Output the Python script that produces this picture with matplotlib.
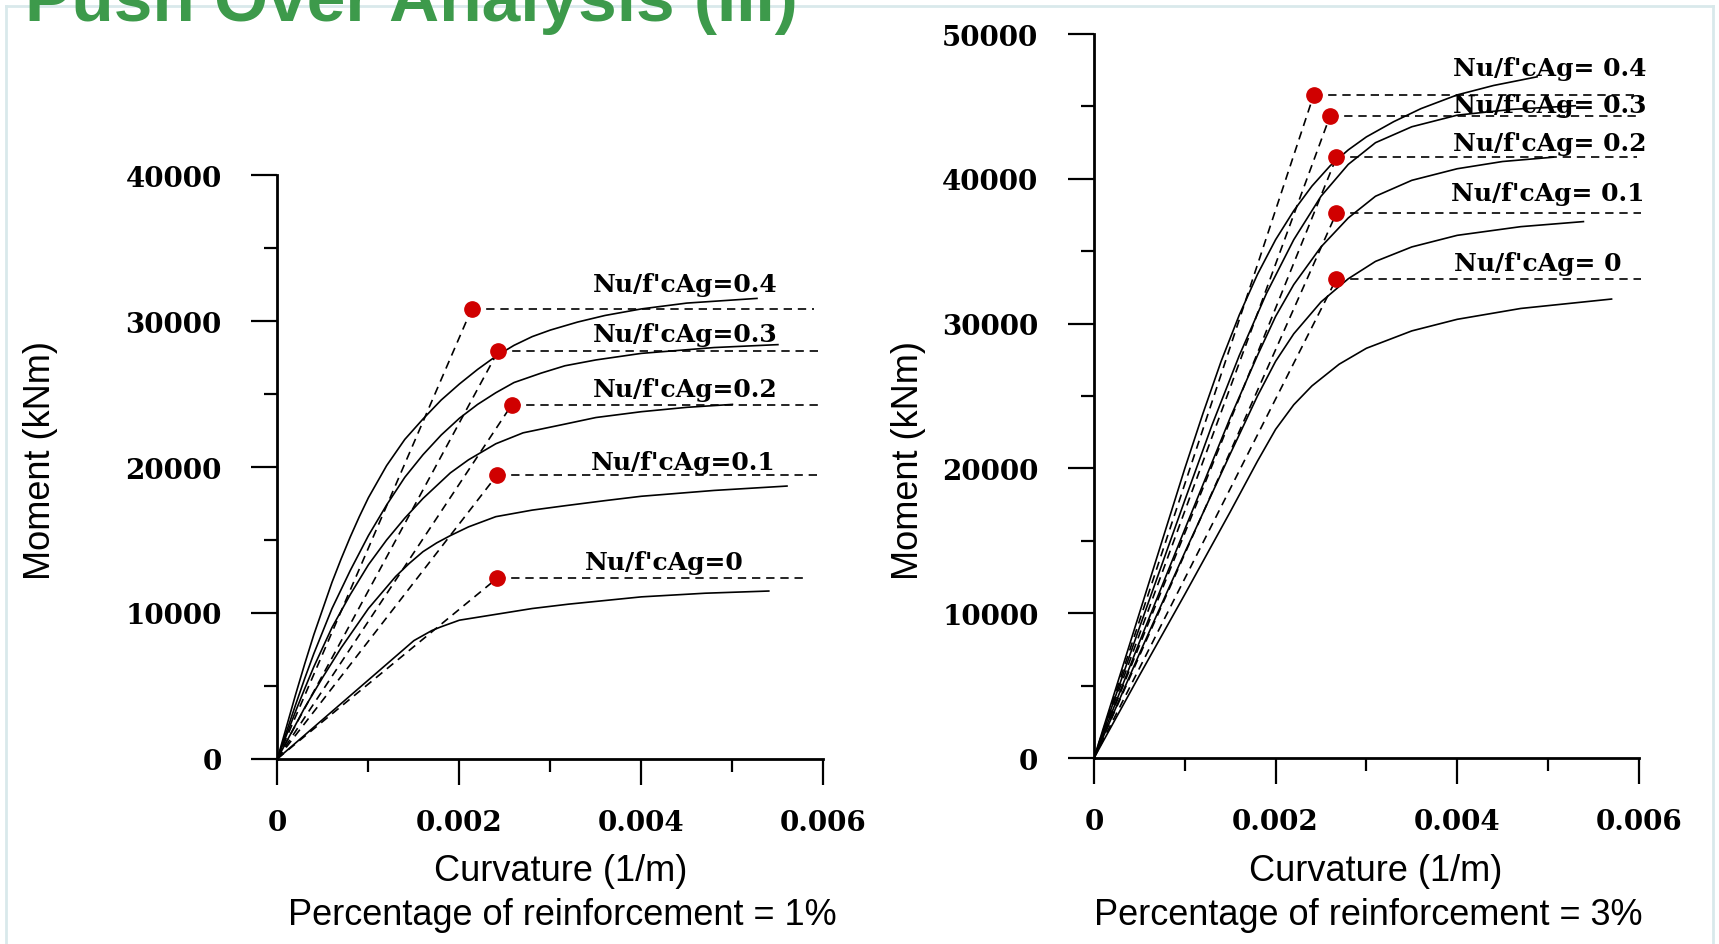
import matplotlib

matplotlib.use("Agg")
import matplotlib.pyplot as plt
from matplotlib.lines import Line2D
from matplotlib.ticker import MultipleLocator

W, H = 1719, 945

ratios = ["0.4", "0.3", "0.2", "0.1", "0"]

# --- 1 % reinforcement: moment-curvature curves (1/m, kNm)
phi1_04 = [0, 0.0001, 0.0002, 0.0003, 0.0004, 0.0005, 0.0006, 0.0007, 0.0008, 0.0009, 0.001, 0.0012,
           0.0014, 0.0016, 0.0018, 0.002, 0.0022, 0.0024, 0.0026, 0.0028, 0.003, 0.0033, 0.0036, 0.004,
           0.0045, 0.00527]
mom1_04 = [0, 2200, 4400, 6500, 8500, 10300, 12100, 13700, 15200, 16600, 17900, 20100,
           21900, 23300, 24600, 25700, 26700, 27600, 28350, 28950, 29400, 29950, 30400, 30850,
           31250, 31570]
phi1_03 = [0, 0.0002, 0.0003, 0.0004, 0.0006, 0.0008, 0.001, 0.0012, 0.0014, 0.0016, 0.0018, 0.002,
           0.0022, 0.0024, 0.0026, 0.0029, 0.00316, 0.0035, 0.004, 0.0048, 0.0055]
mom1_03 = [0, 3700, 5500, 7200, 10300, 12900, 15300, 17400, 19300, 20850, 22200, 23350,
           24300, 25100, 25800, 26450, 26950, 27350, 27800, 28200, 28400]
phi1_02 = [0, 0.0002, 0.0003, 0.0004, 0.0006, 0.0008, 0.001, 0.0012, 0.0014, 0.0016, 0.0019, 0.0021,
           0.0024, 0.0027, 0.00316, 0.0035, 0.004, 0.0045, 0.005]
mom1_02 = [0, 3250, 4800, 6300, 9000, 11250, 13300, 15000, 16500, 17850, 19600, 20500,
           21600, 22350, 22950, 23400, 23800, 24100, 24300]
phi1_01 = [0, 0.0003, 0.0005, 0.0007, 0.001, 0.0013, 0.00145, 0.0016, 0.00175, 0.0019, 0.0021, 0.0024,
           0.0028, 0.00316, 0.0036, 0.004, 0.0048, 0.0056]
mom1_01 = [0, 3500, 5600, 7600, 10300, 12500, 13400, 14200, 14800, 15300, 15900, 16600,
           17050, 17350, 17700, 18000, 18400, 18700]
phi1_00 = [0, 0.0005, 0.001, 0.0015, 0.0017, 0.0018, 0.002, 0.0022, 0.0025, 0.0028, 0.0032, 0.004,
           0.0047, 0.0054]
mom1_00 = [0, 2700, 5400, 8100, 8800, 9050, 9500, 9700, 10000, 10300, 10600, 11100,
           11350, 11500]

# yield points (red dots), plateau ends and label anchors, 1 %
yield1_phi = [0.002135, 0.002428, 0.002574, 0.002417, 0.002417]
yield1_mom = [30850, 27980, 24260, 19480, 12390]
dash1_end = [0.0059, 0.00596, 0.00596, 0.00594, 0.00583]
label1_phi = [0.00448, 0.00448, 0.00448, 0.00446, 0.00425]
label1_mom = [32100, 28670, 24900, 19870, 13010]

# --- 3 % reinforcement
phi3_04 = [0, 0.0005, 0.001, 0.0012, 0.0014, 0.0016, 0.0018, 0.002, 0.0022, 0.0024, 0.0026, 0.0028,
           0.003, 0.0033, 0.0036, 0.004, 0.0044, 0.00488]
mom3_04 = [0, 10000, 20000, 23800, 27400, 30600, 33400, 35800, 37800, 39500, 40900, 42000,
           42900, 43950, 44850, 45800, 46450, 47050]
phi3_03 = [0, 0.0005, 0.001, 0.0013, 0.0016, 0.0019, 0.0022, 0.0025, 0.0028, 0.0031, 0.0035, 0.004,
           0.0046, 0.0053]
mom3_03 = [0, 9000, 17800, 23000, 27800, 32100, 35800, 38800, 41000, 42500, 43600, 44400,
           44800, 45050]
phi3_02 = [0, 0.0005, 0.001, 0.0015, 0.0018, 0.002, 0.0022, 0.0025, 0.0028, 0.0031, 0.0035, 0.004,
           0.0045, 0.00506]
mom3_02 = [0, 8000, 15800, 23500, 27800, 30500, 32700, 35300, 37300, 38800, 39900, 40700,
           41200, 41500]
phi3_01 = [0, 0.0005, 0.001, 0.0015, 0.0018, 0.002, 0.0022, 0.0025, 0.0028, 0.0031, 0.0035, 0.004,
           0.0047, 0.00539]
mom3_01 = [0, 7200, 14200, 21000, 25000, 27400, 29300, 31500, 33100, 34300, 35300, 36100,
           36700, 37050]
phi3_00 = [0, 0.0005, 0.001, 0.0015, 0.0018, 0.002, 0.0022, 0.0024, 0.0027, 0.003, 0.0035, 0.004,
           0.0047, 0.0057]
mom3_00 = [0, 5700, 11300, 17000, 20500, 22700, 24400, 25700, 27200, 28300, 29500, 30300,
           31050, 31700]

yield3_phi = [0.00242, 0.0026, 0.00267, 0.00267, 0.00267]
yield3_mom = [45800, 44350, 41480, 37650, 33100]
dash3_end = [0.00598, 0.00602, 0.00598, 0.00602, 0.00602]
label3_phi = [0.00502, 0.00502, 0.00502, 0.005, 0.00489]
label3_mom = [47170, 44640, 42000, 38550, 33720]

panels = [
    {
        "rect": [277.4 / W, 1 - 759.7 / H, 546 / W, 583.2 / H],
        "ymax": 40000,
        "curves": [(phi1_04, mom1_04), (phi1_03, mom1_03), (phi1_02, mom1_02),
                   (phi1_01, mom1_01), (phi1_00, mom1_00)],
        "yp": yield1_phi, "ym": yield1_mom, "dend": dash1_end,
        "lp": label1_phi, "lm": label1_mom, "sep": "=",
    },
    {
        "rect": [1094 / W, 1 - 759 / H, 544.8 / W, 723.9 / H],
        "ymax": 50000,
        "curves": [(phi3_04, mom3_04), (phi3_03, mom3_03), (phi3_02, mom3_02),
                   (phi3_01, mom3_01), (phi3_00, mom3_00)],
        "yp": yield3_phi, "ym": yield3_mom, "dend": dash3_end,
        "lp": label3_phi, "lm": label3_mom, "sep": "= ",
    },
]

tick_font = {"family": "DejaVu Serif", "weight": "bold", "size": 20}

fig = plt.figure(figsize=(W / 100, H / 100), dpi=100)

for p in panels:
    ax = fig.add_axes(p["rect"])
    for phi, mom in p["curves"]:
        ax.plot(phi, mom, color="black", lw=1.2, solid_joinstyle="round")
    for i, r in enumerate(ratios):
        # secant from origin to yield point, then horizontal plateau
        ax.plot([0, p["yp"][i]], [0, p["ym"][i]], color="black", lw=1.2,
                linestyle=(0, (5, 3.5)))
        ax.plot([p["yp"][i], p["dend"][i]], [p["ym"][i], p["ym"][i]],
                color="black", lw=1.2, linestyle=(0, (5, 3.5)), clip_on=False)
        ax.plot(p["yp"][i], p["ym"][i], "o", color="#d00000", ms=11,
                clip_on=False, zorder=5)
        ax.text(p["lp"][i], p["lm"][i], "Nu/f'cAg" + p["sep"] + r,
                ha="center", va="baseline", family="DejaVu Serif",
                weight="bold", size=18, zorder=6)

    ax.set_xlim(0, 0.006)
    ax.set_ylim(0, p["ymax"])
    ax.set_xticks([0, 0.002, 0.004, 0.006])
    ax.set_xticklabels(["0", "0.002", "0.004", "0.006"], fontdict=tick_font)
    ax.xaxis.set_minor_locator(MultipleLocator(0.001))
    yt = list(range(0, p["ymax"] + 1, 10000))
    ax.set_yticks(yt)
    ax.set_yticklabels([str(v) for v in yt], fontdict=tick_font)
    ax.yaxis.set_minor_locator(MultipleLocator(5000))
    ax.tick_params(which="major", length=19, width=1.6, direction="out")
    ax.tick_params(which="minor", length=9.5, width=1.6, direction="out")
    ax.tick_params(axis="y", which="major", pad=21)
    ax.tick_params(axis="x", which="major", pad=17)
    for s in ["top", "right"]:
        ax.spines[s].set_visible(False)
    for s in ["left", "bottom"]:
        ax.spines[s].set_linewidth(2)

label_font = {"family": "Liberation Sans", "size": 26}
fig.text(40.6 / W, 1 - 460 / H, "Moment (kNm)", rotation=90, ha="center", va="center", **label_font)
fig.text(909 / W, 1 - 460 / H, "Moment (kNm)", rotation=90, ha="center", va="center", **label_font)
fig.text(561 / W, 1 - 871.6 / H, "Curvature (1/m)", ha="center", va="center", **label_font)
fig.text(1376 / W, 1 - 871.6 / H, "Curvature (1/m)", ha="center", va="center", **label_font)
fig.text(562 / W, 1 - 915.4 / H, "Percentage of reinforcement = 1%", ha="center", va="center", **label_font)
fig.text(1368 / W, 1 - 915.4 / H, "Percentage of reinforcement = 3%", ha="center", va="center", **label_font)

# slide frame
frame = "#d9e9eb"
fig.add_artist(Line2D([6 / W, 6 / W], [0, 1 - 7 / H], transform=fig.transFigure, color=frame, lw=2))
fig.add_artist(Line2D([6 / W, 1713 / W], [1 - 7 / H, 1 - 7 / H], transform=fig.transFigure, color=frame, lw=2))
fig.add_artist(Line2D([1713 / W, 1713 / W], [0, 1 - 7 / H], transform=fig.transFigure, color=frame, lw=2))

# slide title, cut off by the top edge as in the source
fig.text(25 / W, 1 - 21 / H, "Push Over Analysis (III)", color="#3d9a4b", fontsize=50,
         fontweight="bold", family="Liberation Sans", va="baseline", ha="left")

fig.savefig("out.png", dpi=100)
